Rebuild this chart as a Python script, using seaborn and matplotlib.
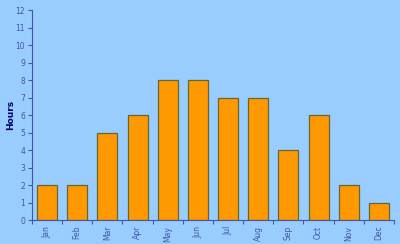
import matplotlib
matplotlib.use("Agg")
import matplotlib.pyplot as plt
import seaborn as sns
import pandas as pd
from matplotlib.ticker import FixedLocator, NullFormatter

months = ["Jan", "Feb", "Mar", "Apr", "May", "Jun", "Jul", "Aug", "Sep", "Oct", "Nov", "Dec"]
hours = [2, 2, 5, 6, 8, 8, 7, 7, 4, 6, 2, 1]
y_ticks = list(range(0, 13))

df = pd.DataFrame({"Month": months, "Hours": hours})

sns.set_theme(style="white")
plt.rcParams["font.family"] = ["DejaVu Sans"]
bg = "#99CCFF"
fig = plt.figure(figsize=(4.0, 2.44), dpi=100, facecolor=bg)
ax = fig.add_axes([0.08, 0.098, 0.905, 0.861])
ax.set_facecolor(bg)

sns.barplot(data=df, x="Month", y="Hours", color="#FF9900", saturation=1,
            width=0.667, edgecolor="#666633", linewidth=0.9, ax=ax)

ax.set_xlim(-0.5, len(months) - 0.5)
ax.set_ylim(0, 12)
ax.set_yticks(y_ticks)
ax.set_xlabel("")
ax.set_ylabel("Hours", fontsize=6.5, fontweight="bold", color="#000066", labelpad=0)

axis_col = "#4455AA"
for s in ["top", "right"]:
    ax.spines[s].set_visible(False)
for s in ["left", "bottom"]:
    ax.spines[s].set_color(axis_col)
    ax.spines[s].set_linewidth(0.8)

ax.tick_params(axis="y", which="major", left=True, length=3, width=0.8, color=axis_col,
               labelsize=5.5, labelcolor="#4455AA", pad=2)
ax.tick_params(axis="x", which="major", bottom=True, length=0, labelsize=5.5, labelcolor="#4455AA",
               labelrotation=90, pad=4)
ax.xaxis.set_minor_locator(FixedLocator([i + 0.5 for i in range(-1, len(months))]))
ax.xaxis.set_minor_formatter(NullFormatter())
ax.tick_params(axis="x", which="minor", bottom=True, length=3, width=0.8, color=axis_col)

fig.savefig("out.png", dpi=100, facecolor=bg)
